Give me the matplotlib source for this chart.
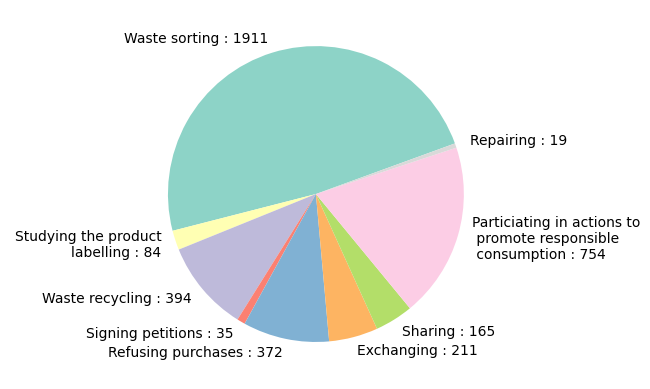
import matplotlib.pyplot as plt

labels = ["Waste sorting", "Studying the product\nlabelling", "Waste recycling",
          "Signing petitions", "Refusing purchases", "Exchanging", "Sharing",
          "Particiating in actions to\n promote responsible\n consumption", "Repairing"]
values = [1911, 84, 394, 35, 372, 211, 165, 754, 19]

cmap = plt.get_cmap("Set3")
cols = [cmap(i) for i in range(len(values))]

fig = plt.figure(figsize=(6.5, 3.89), dpi=100)
ax = fig.add_axes([0.2015, 0.0257, 0.569, 0.951])
ax.pie(values, labels=[l + " : " + str(v) for l, v in zip(labels, values)],
       colors=cols, startangle=20)
ax.set_xlim(-1.25, 1.25)
ax.set_ylim(-1.25, 1.25)
fig.savefig("out.png", dpi=100)
